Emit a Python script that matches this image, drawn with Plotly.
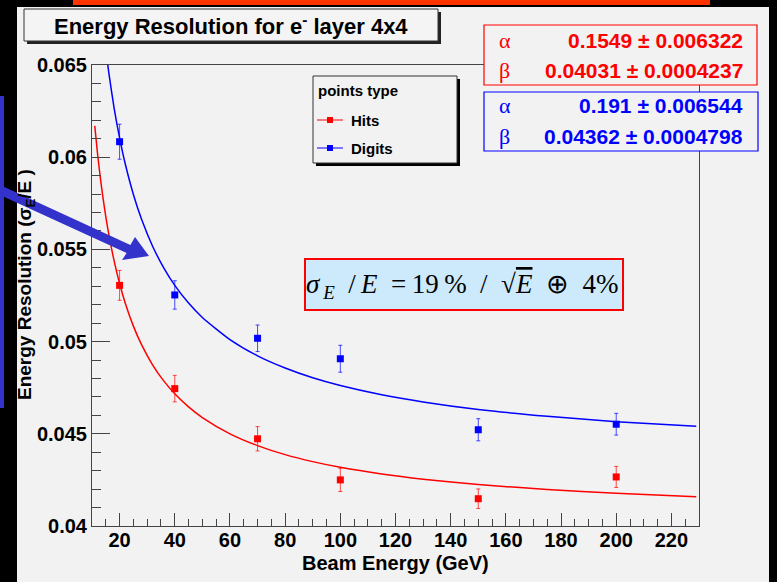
import plotly.graph_objects as go

# ---------------- data ----------------
energies = [20, 40, 70, 100, 150, 200]
hits = [0.05305, 0.04745, 0.04473, 0.0425, 0.04148, 0.04266]
hits_err = [0.00081, 0.00072, 0.00066, 0.00063, 0.00053, 0.00057]
digits = [0.06084, 0.05253, 0.05018, 0.04907, 0.04522, 0.04552]
digits_err = [0.00095, 0.00077, 0.00072, 0.00073, 0.0006, 0.00059]

# fit curves
curve_e = [11, 12, 13, 14, 15, 16, 18, 20, 22, 25, 28, 32, 36, 40, 45, 50, 60, 70, 80, 90,
           100, 115, 130, 150, 175, 200, 229]
hits_fit = [0.0617, 0.0602, 0.05891, 0.05778, 0.05678, 0.0559, 0.05439, 0.05315, 0.05211, 0.05084,
            0.04982, 0.04873, 0.04787, 0.04717, 0.04646, 0.04588, 0.045, 0.04436, 0.04387, 0.04349,
            0.04318, 0.04282, 0.04254, 0.04225, 0.04198, 0.04177, 0.04159]
digits_fit = [0.07224, 0.07031, 0.06862, 0.06715, 0.06584, 0.06468, 0.06268, 0.06105, 0.05967, 0.05798,
              0.05662, 0.05516, 0.054, 0.05305, 0.05209, 0.05131, 0.05011, 0.04923, 0.04857, 0.04804,
              0.04762, 0.04712, 0.04673, 0.04632, 0.04595, 0.04566, 0.04541]

y_tickvals = [0.04, 0.045, 0.05, 0.055, 0.06, 0.065]
y_ticktext = ["0.04", "0.045", "0.05", "0.055", "0.06", "0.065"]
x_tickvals = [20, 40, 60, 80, 100, 120, 140, 160, 180, 200, 220]

red_stats = ["0.1549 ± 0.006322", "0.04031 ± 0.0004237"]
blue_stats = ["0.191 ± 0.006544", "0.04362 ± 0.0004798"]

# ---------------- geometry helpers (pixel -> paper) ----------------
WIDTH, HEIGHT = 777, 582
L, R, T, B = 92, 699, 65, 526
PW, PH = R - L, B - T


def px(x):
    return (x - L) / PW


def py(y):
    return (B - y) / PH


SANS = "Liberation Sans, Arial, Helvetica, sans-serif"
SERIF = "Liberation Serif, Times New Roman, serif"
RED = "#ff0000"
BLUE = "#0000ff"
ARROW = "#3333cc"

fig = go.Figure()

fig.add_trace(go.Scatter(x=curve_e, y=hits_fit, mode="lines",
                         line=dict(color=RED, width=1.5, shape="spline", smoothing=0.6),
                         hoverinfo="skip", showlegend=False))
fig.add_trace(go.Scatter(x=curve_e, y=digits_fit, mode="lines",
                         line=dict(color=BLUE, width=1.5, shape="spline", smoothing=0.6),
                         hoverinfo="skip", showlegend=False))
fig.add_trace(go.Scatter(x=energies, y=hits, mode="markers",
                         marker=dict(symbol="square", size=7, color=RED),
                         error_y=dict(type="data", array=hits_err, color="rgba(255,0,0,0.7)",
                                      thickness=1, width=2),
                         name="Hits", showlegend=False))
fig.add_trace(go.Scatter(x=energies, y=digits, mode="markers",
                         marker=dict(symbol="square", size=7, color=BLUE),
                         error_y=dict(type="data", array=digits_err, color="rgba(0,0,255,0.7)",
                                      thickness=1, width=2),
                         name="Digits", showlegend=False))

shapes = []


def rect(x0, y0, x1, y1, fill, line_color=None, lw=1, layer="above"):
    shapes.append(dict(type="rect", xref="paper", yref="paper",
                       x0=px(x0), x1=px(x1), y0=py(y1), y1=py(y0),
                       fillcolor=fill,
                       line=dict(color=line_color or fill, width=lw if line_color else 0),
                       layer=layer))


# background panel and slide decorations
rect(17, 7, 769, 582, "#f2f2f2", layer="below")
rect(73, 0, 710, 5, "#ff3300", layer="below")

# title box with shadow
rect(27, 12, 441, 44, "#222222")
rect(24, 9, 438, 41, "#f4f4f4", "#333333", 1)

# stat boxes
rect(484, 25, 757, 85, "#f2f2f2", RED, 1.2)
rect(484, 92, 758, 151, "#f2f2f2", BLUE, 1.2)

# legend box with shadow
rect(316, 79, 460, 166, "#000000")
rect(313, 76, 457, 163, "#f2f2f2", "#333333", 1)
# legend symbols
for yy, col in [(120, RED), (148, BLUE)]:
    shapes.append(dict(type="line", xref="paper", yref="paper", x0=px(317), x1=px(343),
                       y0=py(yy), y1=py(yy), line=dict(color=col, width=1), layer="above"))
    rect(327, yy - 3, 333, yy + 3, col)

# formula box
rect(305, 259, 623, 310, "#cceafb", RED, 2)

# left blue bar
rect(0, 96, 4, 408, ARROW)

# arrow polygon
arrow_pts = [(-3.1, 183.6), (130.4, 244.9), (135, 237), (149, 256), (122, 260), (126.6, 253.1), (-6.9, 191.8)]
path = "M " + " L ".join(f"{px(a):.5f},{py(b):.5f}" for a, b in arrow_pts) + " Z"
shapes.append(dict(type="path", xref="paper", yref="paper", path=path,
                   fillcolor=ARROW, line=dict(color=ARROW, width=0), layer="above"))

annotations = []


def text(x, y, s, size, color="#000000", family=SANS, xanchor="center", angle=0):
    annotations.append(dict(x=px(x), y=py(y), xref="paper", yref="paper", text=s,
                            showarrow=False, xanchor=xanchor, yanchor="middle",
                            textangle=angle, font=dict(size=size, color=color, family=family)))


text(231, 25, "<b>Energy Resolution for e<sup>-</sup> layer 4x4</b>", 22)

# stat box texts
text(497, 40, "α", 22, RED, SERIF, "left")
text(497, 70, "β", 22, RED, SERIF, "left")
text(745, 40, "<b>" + red_stats[0] + "</b>", 21, RED, SANS, "right")
text(745, 70, "<b>" + red_stats[1] + "</b>", 21, RED, SANS, "right")
text(497, 106, "α", 22, BLUE, SERIF, "left")
text(497, 136, "β", 22, BLUE, SERIF, "left")
text(745, 106, "<b>" + blue_stats[0] + "</b>", 21, BLUE, SANS, "right")
text(745, 136, "<b>" + blue_stats[1] + "</b>", 21, BLUE, SANS, "right")

# legend texts
text(316, 90, "<b>points type</b>", 15, xanchor="left")
text(349, 120, "<b>Hits</b>", 15, xanchor="left")
text(349, 148, "<b>Digits</b>", 15, xanchor="left")

# formula
SP = "\u2002"
TH = "\u2009"
formula = ("<i>σ</i><sub>" + TH + "<i>E</i></sub>" + SP + "/" + TH + "<i>E</i>" + SP + "=" + TH + "19" + TH + "%"
           + SP + "/" + SP + "√<span style='text-decoration:overline'><i>E</i></span>" + SP + "⊕" + SP + "4%")
text(462, 286, formula, 27, "#000000", SERIF)

# axis titles
text(395, 563, "<b>Beam Energy (GeV)</b>", 20)
text(26, 285, "<b>Energy Resolution (σ<sub>E</sub>/E )</b>", 19, angle=-90)

fig.update_layout(
    width=WIDTH, height=HEIGHT, autosize=False,
    margin=dict(l=L, r=WIDTH - R, t=T, b=HEIGHT - B, pad=0),
    paper_bgcolor="#000000", plot_bgcolor="#f2f2f2",
    shapes=shapes, annotations=annotations, showlegend=False,
)
fig.update_xaxes(range=[10, 230], tickmode="array", tickvals=x_tickvals,
                 ticktext=["<b>%d</b>" % v for v in x_tickvals],
                 ticks="inside", ticklen=13, tickcolor="#444444", tickwidth=1,
                 ticklabelstandoff=-4,
                 showgrid=False, zeroline=False, showline=True, linecolor="#444444", linewidth=1,
                 mirror=True, automargin=False,
                 tickfont=dict(family=SANS, size=20, color="#000000"),
                 minor=dict(ticks="inside", ticklen=7, tickcolor="#444444", dtick=5, tick0=0, showgrid=False))
fig.update_yaxes(range=[0.04, 0.065], tickmode="array", tickvals=y_tickvals,
                 ticktext=["<b>" + t + "</b>" for t in y_ticktext],
                 ticks="inside", ticklen=18, tickcolor="#444444", tickwidth=1,
                 showgrid=False, zeroline=False, showline=True, linecolor="#444444", linewidth=1,
                 mirror=True, automargin=False,
                 tickfont=dict(family=SANS, size=20, color="#000000"),
                 minor=dict(ticks="inside", ticklen=9, tickcolor="#444444", dtick=0.001, tick0=0.04, showgrid=False))

fig.write_html("out.html", config={"displayModeBar": False},
               post_script="document.body.style.margin='0px';document.body.style.background='#000000';")
